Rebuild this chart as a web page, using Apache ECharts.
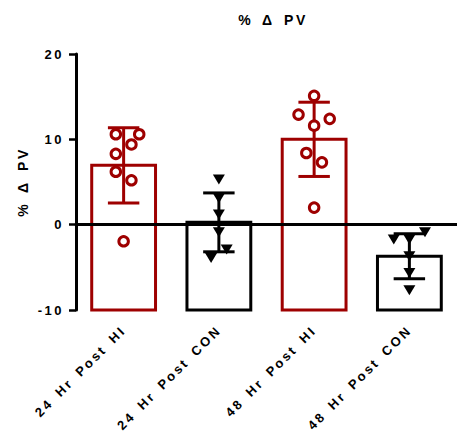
<!DOCTYPE html>
<html><head><meta charset="utf-8">
<script src="https://cdn.jsdelivr.net/npm/echarts@6/dist/echarts.min.js"></script>
<style>
html,body{margin:0;padding:0;background:#fff;}
#c{width:457px;height:435px;}
#c text{letter-spacing:2.5px;word-spacing:3px;}
</style></head><body><div id="c"></div>
<script>
// ---- data ----
const categories = ['24 Hr Post HI', '24 Hr Post CON', '48 Hr Post HI', '48 Hr Post CON'];
const barMeans = [6.95, 0.27, 10.0, -3.7];
const barSD = [4.4, 3.45, 4.35, 2.65];
const yTicks = [-10, 0, 10, 20];

const hi24 = [10.6, 10.6, 9.4, 8.3, 6.2, 5.2, -1.95];
const con24 = [5.3, 3.1, 1.2, -0.9, -2.9, -3.9];
const hi48 = [15.1, 12.9, 12.4, 11.6, 8.4, 7.3, 2.0];
const con48 = [-0.9, -1.75, -1.75, -3.7, -5.65, -7.7];
// jitter slot of each point (column position inside the bar)
const hi24Slot = [-1, 2, 1, -1, -1, 1, 0];
const con24Slot = [0, 0, 0, 0, 1, -1];
const hi48Slot = [0, -2, 2, 0, -1, 1, 0];
const con48Slot = [2, -2, 0, 0, 0, 0];

const RED = '#9e0000', BLACK = '#000000';
const groupColors = [RED, BLACK, RED, BLACK];
const SLOT_PX = 7.8;
const FONT = 'Liberation Sans, Arial, sans-serif';

const chart = echarts.init(document.getElementById('c'), null, {renderer: 'svg'});

function pts(vals, slots, idx) {
  return vals.map((v, k) => ({value: [idx, v], symbolOffset: [slots[k] * SLOT_PX, 0]}));
}

const yMin = yTicks[0], yMax = yTicks[yTicks.length - 1];

const option = {
  animation: false,
  backgroundColor: '#ffffff',
  title: {
    text: '% Δ PV',
    left: 268, top: 8, textAlign: 'center',
    textStyle: {fontFamily: FONT, fontWeight: 'bold', fontSize: 14, color: '#000'}
  },
  grid: {left: 76, top: 54, width: 387, height: 256, containLabel: false},
  xAxis: {
    type: 'category', data: categories,
    axisLine: {lineStyle: {color: '#000', width: 3}},
    axisTick: {alignWithLabel: true, length: 6, lineStyle: {color: '#000', width: 2.5}},
    axisLabel: {rotate: 45, margin: 18, color: '#000', fontFamily: FONT, fontWeight: 'bold', fontSize: 13, interval: 0},
    splitLine: {show: false}
  },
  yAxis: {
    type: 'value', min: yMin, max: yMax, interval: 10,
    name: '% Δ PV', nameLocation: 'middle', nameRotate: 90, nameGap: 46,
    nameTextStyle: {fontFamily: FONT, fontWeight: 'bold', fontSize: 14, color: '#000'},
    axisLine: {show: true, lineStyle: {color: '#000', width: 3}},
    axisTick: {show: true, length: 7, lineStyle: {color: '#000', width: 2.5}},
    axisLabel: {margin: 12, color: '#000', fontFamily: FONT, fontWeight: 'bold', fontSize: 13},
    splitLine: {show: false}
  },
  series: [
    {
      type: 'custom', z: 1,
      data: barMeans.map((m, i) => [i, m]),
      renderItem: function (params, api) {
        const i = api.value(0);
        const top = api.coord([i, api.value(1)]);
        const base = api.coord([i, yMin]);
        const w = api.size([1, 0])[0] * 0.67;
        return {
          type: 'rect',
          shape: {x: top[0] - w / 2, y: top[1], width: w, height: base[1] - top[1]},
          style: {fill: '#fff', stroke: groupColors[i], lineWidth: 3}
        };
      }
    },
    {
      type: 'line', data: [], z: 3,
      markLine: {
        z: 3, silent: true, symbol: 'none', label: {show: false},
        lineStyle: {color: '#000', width: 3, type: 'solid'},
        data: [{yAxis: 0}]
      }
    },
    {
      type: 'custom', z: 4,
      data: barMeans.map((m, i) => [i, m, barSD[i]]),
      renderItem: function (params, api) {
        const i = api.value(0), m = api.value(1), sd = api.value(2);
        const hi = api.coord([i, m + sd]);
        const lo = api.coord([i, m - sd]);
        const cw = api.size([1, 0])[0] * 0.33 / 2;
        const st = {stroke: groupColors[i], lineWidth: 3};
        return {
          type: 'group',
          children: [
            {type: 'line', shape: {x1: hi[0], y1: hi[1], x2: lo[0], y2: lo[1]}, style: st},
            {type: 'line', shape: {x1: hi[0] - cw, y1: hi[1], x2: hi[0] + cw, y2: hi[1]}, style: st},
            {type: 'line', shape: {x1: lo[0] - cw, y1: lo[1], x2: lo[0] + cw, y2: lo[1]}, style: st}
          ]
        };
      }
    },
    {
      type: 'scatter', z: 6, symbol: 'circle', symbolSize: 9.5,
      itemStyle: {color: '#fff', borderColor: RED, borderWidth: 3, opacity: 1},
      data: pts(hi24, hi24Slot, 0).concat(pts(hi48, hi48Slot, 2))
    },
    {
      type: 'scatter', z: 6, symbol: 'triangle', symbolRotate: 180, symbolSize: [12, 10],
      itemStyle: {color: BLACK, opacity: 1},
      data: pts(con24, con24Slot, 1).concat(pts(con48, con48Slot, 3))
    }
  ]
};
chart.setOption(option);
</script>
</body></html>
